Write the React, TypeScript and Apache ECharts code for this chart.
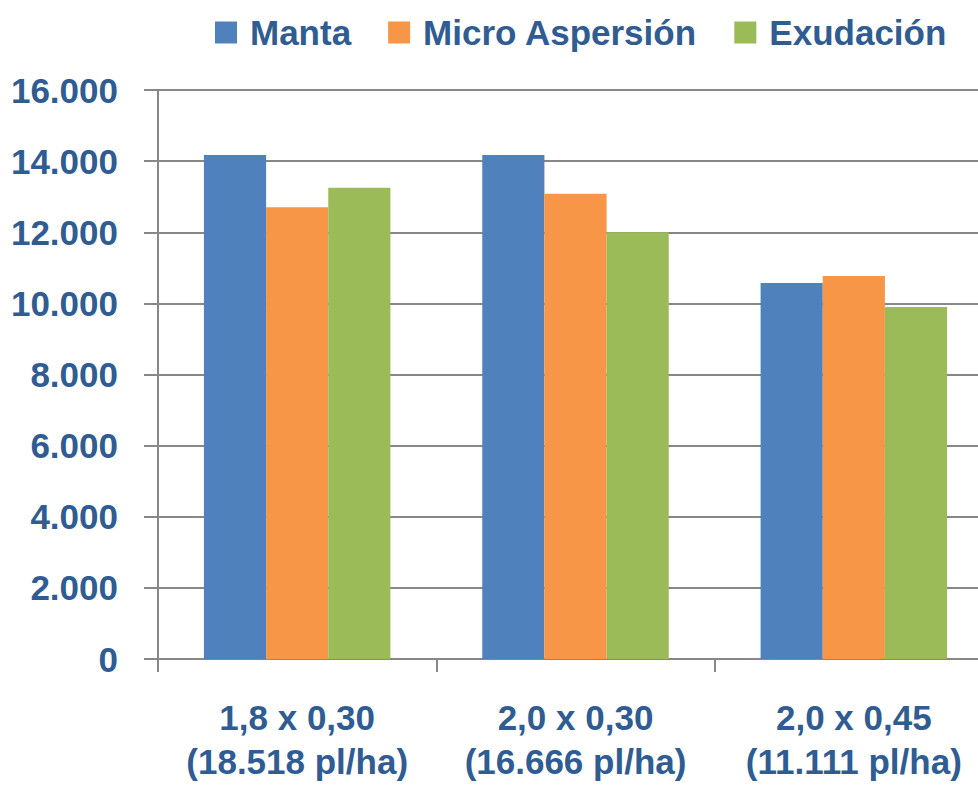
import React, { useEffect, useRef } from "react";
import * as echarts from "echarts";

const categories = ["1,8 x 0,30\n(18.518 pl/ha)", "2,0 x 0,30\n(16.666 pl/ha)", "2,0 x 0,45\n(11.111 pl/ha)"];
const seriesNames = ["Manta", "Micro Aspersión", "Exudación"];
const manta = [14170, 14170, 10570];
const micro = [12700, 13080, 10770];
const exudacion = [13250, 12000, 9900];
const colors = ["#4F81BD", "#F79646", "#9BBB59"];

const FONT = "'Liberation Sans', Arial, sans-serif";
const TEXT = "#2F5C92";
const GRID = "#878787";

export default function App() {
  const ref = useRef<HTMLDivElement>(null);
  useEffect(() => {
    document.body.style.margin = "0";
    const chart = echarts.init(ref.current!, undefined, { renderer: "svg" });
    const data = [manta, micro, exudacion];
    chart.setOption({
      animation: false,
      backgroundColor: "#FFFFFF",
      color: colors,
      legend: {
        top: 10,
        left: 210,
        itemWidth: 22,
        itemHeight: 22,
        itemGap: 37,
        icon: "rect",
        textStyle: { fontFamily: FONT, fontWeight: "bold", fontSize: 35, color: TEXT, padding: [0, 0, 0, 8] },
        data: seriesNames,
      },
      grid: { left: 158, right: -15, top: 90, bottom: 134, containLabel: false, outerBoundsMode: "none" },
      xAxis: {
        type: "category",
        data: categories,
        axisLine: { lineStyle: { color: GRID, width: 2 } },
        axisTick: { show: true, length: 13, lineStyle: { color: GRID, width: 2 } },
        axisLabel: {
          interval: 0,
          hideOverlap: false,
          margin: 36,
          fontFamily: FONT,
          fontWeight: "bold",
          fontSize: 35,
          lineHeight: 44,
          color: TEXT,
        },
      },
      yAxis: {
        type: "value",
        min: 0,
        max: 16000,
        interval: 2000,
        axisLine: { show: true, lineStyle: { color: GRID, width: 2 } },
        axisTick: { show: true, length: 14, lineStyle: { color: GRID, width: 2 } },
        splitLine: { show: true, lineStyle: { color: GRID, width: 2 } },
        axisLabel: {
          margin: 40,
          fontFamily: FONT,
          fontWeight: "bold",
          fontSize: 35,
          color: TEXT,
          formatter: (v: number) => String(v).replace(/\B(?=(\d{3})+(?!\d))/g, "."),
        },
      },
      series: seriesNames.map((name, i) => ({
        name,
        type: "bar",
        data: data[i],
        barGap: "0%",
        barCategoryGap: "33%",
        itemStyle: { color: colors[i] },
      })),
    });
    return () => chart.dispose();
  }, []);
  return <div ref={ref} style={{ position: "fixed", left: 0, top: 0, width: 978, height: 793 }} />;
}
